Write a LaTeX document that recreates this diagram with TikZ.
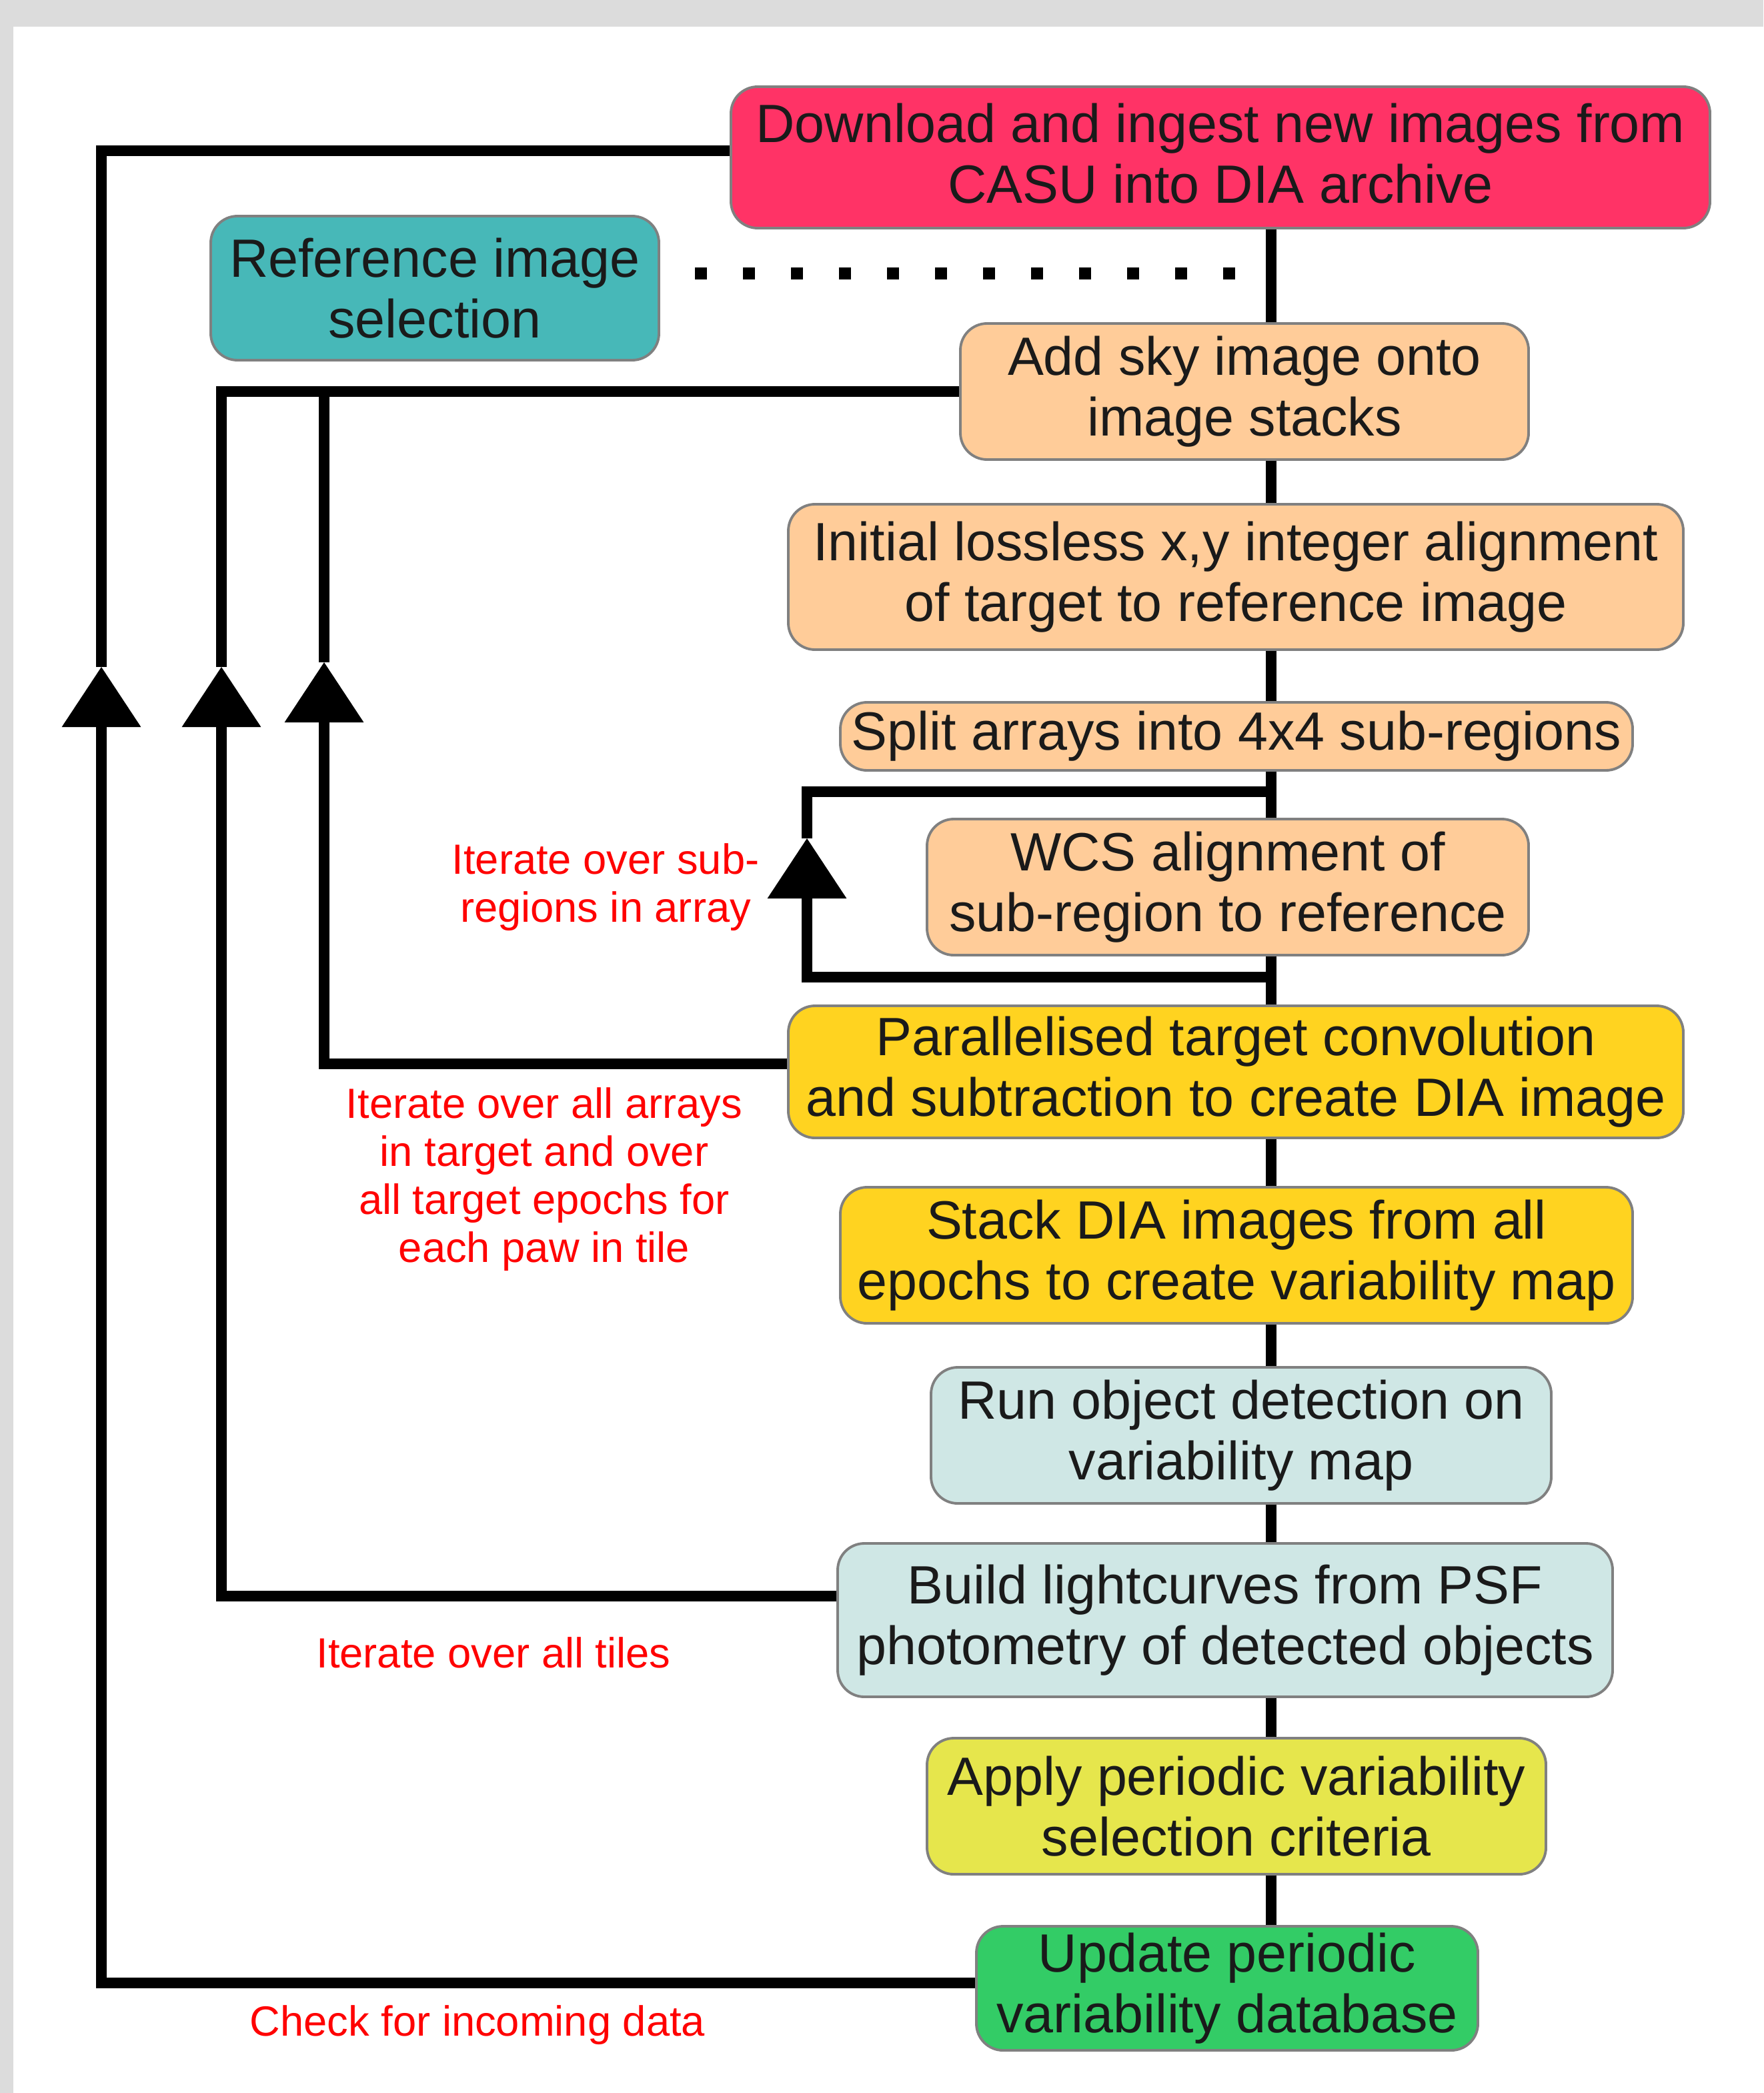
\documentclass[tikz,border=0pt]{standalone}
\usepackage{fontspec}
\setmainfont{Liberation Sans}
\usetikzlibrary{arrows.meta,calc}

\definecolor{bggray}{HTML}{DCDCDC}
\definecolor{boxline}{HTML}{808080}
\definecolor{ink}{HTML}{1A1A1A}
\definecolor{pinkbox}{HTML}{FF3366}
\definecolor{tealbox}{HTML}{47B8B8}
\definecolor{peachbox}{HTML}{FFCC99}
\definecolor{goldbox}{HTML}{FFD320}
\definecolor{palebox}{HTML}{CFE7E5}
\definecolor{limebox}{HTML}{E6E64C}
\definecolor{greenbox}{HTML}{33CC66}

\tikzset{
  stage/.style={draw=boxline, line width=1.1pt, rounded corners=0.4cm, align=center,
    inner sep=0pt, text=ink, font=\fontsize{23}{26}\selectfont},
  flow/.style={line width=4.6pt},
  uptip/.style={-{Triangle[length=0.9cm,width=1.18cm,line width=1pt]}},
  note/.style={text=red, align=center, font=\fontsize{18}{20.5}\selectfont},
  dotline/.style={line width=0.18cm, dash pattern=on 0.18cm off 0.54cm}
}

\begin{document}
\begin{tikzpicture}
            \useasboundingbox (0,0) rectangle (26.44,-31.38);
            \fill[bggray] (0,0) rectangle (26.44,-31.38);
            \fill[white] (0.20,-0.40) rectangle (26.44,-31.38);

            % pipeline stages
            \node[stage, fill=pinkbox, minimum width=14.68cm, minimum height=2.12cm] (dl) at (18.30,-2.36)
                {\raisebox{0.12cm}{Download and ingest new images from}\\\raisebox{0.12cm}{CASU into DIA archive}};
            \node[stage, fill=tealbox, minimum width=6.72cm, minimum height=2.16cm] (refsel) at (6.52,-4.32)
                {Reference image\\selection};
            \node[stage, fill=peachbox, minimum width=8.52cm, minimum height=2.04cm] (sky) at (18.66,-5.87)
                {Add sky image onto\\image stacks};
            \node[stage, fill=peachbox, minimum width=13.42cm, minimum height=2.18cm] (init) at (18.53,-8.65)
                {Initial lossless x,y integer alignment\\of target to reference image};
            \node[stage, fill=peachbox, minimum width=11.88cm, minimum height=1.02cm] (split) at (18.54,-11.04)
                {Split arrays into 4x4 sub-regions};
            \node[stage, fill=peachbox, minimum width=9.02cm, minimum height=2.04cm] (wcs) at (18.41,-13.30)
                {WCS alignment of\\sub-region to reference};
            \node[stage, fill=goldbox, minimum width=13.42cm, minimum height=1.98cm] (par) at (18.53,-16.07)
                {Parallelised target convolution\\and subtraction to create DIA image};
            \node[stage, fill=goldbox, minimum width=11.88cm, minimum height=2.04cm] (stack) at (18.54,-18.82)
                {Stack DIA images from all\\epochs to create variability map};
            \node[stage, fill=palebox, minimum width=9.30cm, minimum height=2.04cm] (run) at (18.61,-21.52)
                {Run object detection on\\variability map};
            \node[stage, fill=palebox, minimum width=11.62cm, minimum height=2.30cm] (build) at (18.37,-24.29)
                {Build lightcurves from PSF\\photometry of detected objects};
            \node[stage, fill=limebox, minimum width=9.28cm, minimum height=2.04cm] (apply) at (18.54,-27.08)
                {Apply periodic variability\\selection criteria};
            \node[stage, fill=greenbox, minimum width=7.52cm, minimum height=1.86cm] (upd) at (18.40,-29.81)
                {Update periodic\\variability database};

            % main spine
            \coordinate (sp) at (19.06,0);
            \foreach \a/\b in {dl/sky, sky/init, init/split, split/wcs, wcs/par, par/stack,
                               stack/run, run/build, build/apply, apply/upd}
                \draw[flow] (\a.south -| sp) -- (\b.north -| sp);

            \draw[dotline] ($(refsel.east)+(0.52,0.22)$) -- ++(8.10,0);

            % loops
            \coordinate (tip1) at (1.52,-10.00);
            \coordinate (tip2) at (3.32,-10.00);
            \coordinate (tip3) at (4.86,-9.93);
            \coordinate (tip4) at (12.10,-12.57);

            \draw[flow, uptip] ($(upd.west)+(0,0.08)$) -| (tip1);
            \draw[flow] (tip1) |- ($(dl.west)+(0,0.10)$);

            \draw[flow, uptip] ($(build.west)+(0,0.36)$) -| (tip2);
            \draw[flow] (tip2) |- (sky.west);

            \draw[flow, uptip] ($(par.west)+(0,0.12)$) -| (tip3);
            \draw[flow] (tip3) |- (sky.west);

            \draw[flow, uptip] ($(par.north -| sp)+(0,0.41)$) -| (tip4);
            \draw[flow] (tip4) |- ($(split.south -| sp)+(0,-0.30)$);

            % loop labels
            \node[note] (lbsub) at (9.08,-13.30) {Iterate over sub-\\regions in array};
            \node[note] (lbarr) at (8.16,-17.68) {Iterate over all arrays\\in target and over\\all target epochs for\\each paw in tile};
            \node[note] (lbtile) at (7.40,-24.78) {Iterate over all tiles};
            \node[note] (lbdata) at (7.16,-30.36) {Check for incoming data};
        \end{tikzpicture}
\end{document}
